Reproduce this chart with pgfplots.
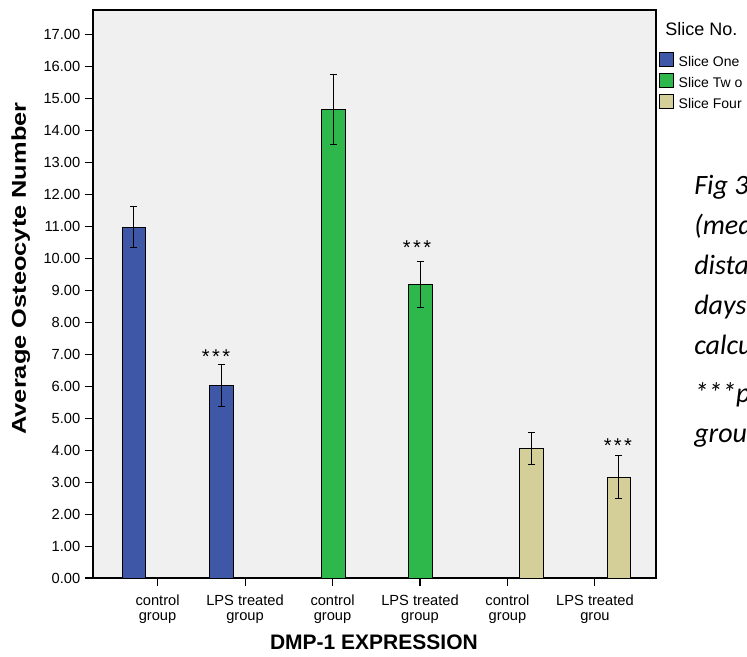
\documentclass[border=0pt]{standalone}
\usepackage{pgfplots}
\pgfplotsset{compat=1.18}
\usepackage{fontspec}
\setmainfont{Liberation Sans}
\newfontfamily\calib{Carlito}
\newfontfamily\ylabfont[FakeStretch=1.27]{Liberation Sans}
\definecolor{bgc}{RGB}{240,240,240}
\definecolor{sblue}{RGB}{62,87,167}
\definecolor{sgreen}{RGB}{46,184,76}
\definecolor{stan}{RGB}{212,206,153}
\pgfplotsset{sqleg/.style={legend image code/.code={\draw[##1, draw=black, line width=0.9pt, overlay] (0pt,-2.65pt) rectangle (10.5pt,7.85pt); \path (0pt,0pt) (10.5pt,0pt);}}}
\newcommand{\stars}{*\hspace{1.8pt}*\hspace{1.8pt}*}
\begin{document}
\begin{tikzpicture}
\useasboundingbox (-69.75pt,-59.25pt) rectangle (490.5pt,433.5pt);
\clip (-69.75pt,-59.25pt) rectangle (490.5pt,433.5pt);
\begin{axis}[at={(0pt,0pt)}, anchor=south west, scale only axis,
 width=422.25pt, height=426pt, clip=false,
 xmin=-0.738, xmax=5.698, ymin=0, ymax=17.78,
 axis background/.style={fill=bgc},
 axis line style={black, line width=1.1pt},
 ybar, bar width=17.8pt,
 xtick={0,1,2,3,4,5},
 xticklabels={control\\group, LPS treated\\group, control\\group, LPS treated\\group, control\\group, LPS treated\\grou},
 xticklabel style={align=center, yshift=-3pt, font=\fontsize{11}{11.25}\selectfont},
 ytick={0,1,...,17},
 yticklabel={\pgfmathprintnumber[fixed,fixed zerofill,precision=2]{\tick}},
 yticklabel style={font=\fontsize{11}{12}\selectfont},
 /pgf/number format/assume math mode=true,
 tick align=outside, major tick length=6pt,
 xtick style={black, line width=0.8pt},
 ytick style={black, line width=0.8pt},
 xtick pos=lower, ytick pos=left,
 xlabel={DMP-1 EXPRESSION},
 xlabel style={at={(axis description cs:0.499,0)}, anchor=base, yshift=-54pt, font=\bfseries\fontsize{15.75}{16}\selectfont},
 ylabel={Average Osteocyte Number},
 ylabel style={at={(axis description cs:-0.119,0.545)}, anchor=base, font=\ylabfont\bfseries\fontsize{15}{16}\selectfont},
 legend style={at={(axis description cs:1,1)}, anchor=north west, xshift=2.2pt, yshift=-33pt, draw=none, fill=none, inner sep=0pt,
   font=\fontsize{10.5}{12}\selectfont, nodes={inner sep=1.5pt, text height=8pt, text depth=2.4pt}, row sep=2.35pt, column sep=2pt},
 legend cell align=left,
]
\addplot[sqleg, fill=sblue, draw=black, line width=0.6pt, bar shift=-17.7pt,
  error bars/.cd, y dir=both, y explicit,
  error bar style={black, line width=0.75pt},
  error mark options={rotate=90, black, mark size=2.6pt, line width=0.75pt}]
  coordinates {(0,10.98) +- (0,0.645) (1,6.03) +- (0,0.66)};
\addlegendentry{Slice One}
\addplot[sqleg, fill=sgreen, draw=black, line width=0.6pt, bar shift=0.4pt,
  error bars/.cd, y dir=both, y explicit,
  error bar style={black, line width=0.75pt},
  error mark options={rotate=90, black, mark size=2.6pt, line width=0.75pt}]
  coordinates {(2,14.68) +- (0,1.095) (3,9.20) +- (0,0.72)};
\addlegendentry{Slice Tw o}
\addplot[sqleg, fill=stan, draw=black, line width=0.6pt, bar shift=18pt,
  error bars/.cd, y dir=both, y explicit,
  error bar style={black, line width=0.75pt},
  error mark options={rotate=90, black, mark size=2.6pt, line width=0.75pt}]
  coordinates {(4,4.05) +- (0,0.5) (5,3.16) +- (0,0.67)};
\addlegendentry{Slice Four}
\node[anchor=base, inner sep=0pt, font=\fontsize{15}{15}\selectfont, xshift=-21.75pt] at (axis cs:1,6.70) {\stars};
\node[anchor=base, inner sep=0pt, font=\fontsize{15}{15}\selectfont, xshift=-2.2pt] at (axis cs:3,10.14) {\stars};
\node[anchor=base, inner sep=0pt, font=\fontsize{15}{15}\selectfont, xshift=17.2pt] at (axis cs:5,3.94) {\stars};
\node[anchor=base west, font=\fontsize{13.5}{14}\selectfont, inner sep=0pt, xshift=6.75pt, yshift=-19.5pt] at (axis description cs:1,1) {Slice No.};
\end{axis}
\begin{scope}[every node/.style={anchor=base west, inner sep=0pt, font=\calib\itshape\fontsize{21}{22}\selectfont}]
\node at (450.75pt,287.25pt) {Fig 3};
\node at (450.75pt,257.25pt) {(med};
\node at (450.75pt,227.25pt) {dista};
\node at (450.75pt,197.25pt) {days};
\node at (450.75pt,167.25pt) {calcu};
\node at (450.75pt,131.25pt) {***p};
\node at (450.75pt,101.25pt) {grou};
\end{scope}
\end{tikzpicture}
\end{document}
